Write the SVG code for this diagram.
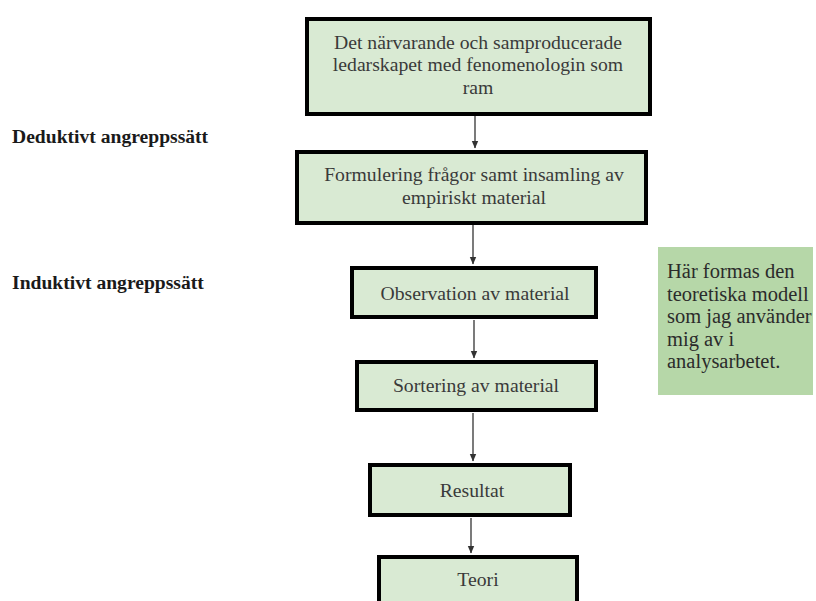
<svg xmlns="http://www.w3.org/2000/svg" width="816" height="601" viewBox="0 0 816 601">
  <defs>
    <marker id="arrow" viewBox="0 0 8 8" refX="7" refY="4" markerWidth="8" markerHeight="8" markerUnits="userSpaceOnUse" orient="auto">
      <path d="M0,0.8 L7.5,4 L0,7.2 Z" fill="#333"/>
    </marker>
  </defs>
  <style>
    .box { fill: #d9ead3; stroke: #000; stroke-width: 4; }
    .boxtxt { font-family: "Liberation Serif", "Times New Roman", serif; font-size: 19.7px; fill: #3a3a3a; text-anchor: middle; }
    .side { font-family: "Liberation Serif", "Times New Roman", serif; font-size: 19.6px; font-weight: bold; fill: #1a1a1a; }
    .note { fill: #b6d7a8; }
    .notetxt { font-family: "Liberation Serif", "Times New Roman", serif; font-size: 20.5px; fill: #2b2b2b; }
    .conn { stroke: #333; stroke-width: 1.3; fill: none; marker-end: url(#arrow); }
  </style>
  <rect width="816" height="601" fill="#fff"/>

  <g id="connectors">
    <line class="conn" x1="475" y1="116" x2="475" y2="148"/>
    <line class="conn" x1="473" y1="225" x2="473" y2="264"/>
    <line class="conn" x1="474" y1="320" x2="474" y2="358"/>
    <line class="conn" x1="473" y1="413" x2="473" y2="461"/>
    <line class="conn" x1="471" y1="518" x2="471" y2="553"/>
  </g>

  <g id="label-deduktivt">
    <text class="side" x="12" y="143">Deduktivt angreppssätt</text>
  </g>
  <g id="label-induktivt">
    <text class="side" x="12" y="289">Induktivt angreppssätt</text>
  </g>

  <g id="node-ram">
    <rect class="box" x="307" y="19" width="343" height="95"/>
    <text class="boxtxt" x="478" y="49">Det närvarande och samproducerade</text>
    <text class="boxtxt" x="478" y="71">ledarskapet med fenomenologin som</text>
    <text class="boxtxt" x="478" y="94">ram</text>
  </g>

  <g id="node-formulering">
    <rect class="box" x="297" y="152" width="349" height="71"/>
    <text class="boxtxt" x="474" y="181">Formulering frågor samt insamling av</text>
    <text class="boxtxt" x="474" y="204">empiriskt  material</text>
  </g>

  <g id="node-observation">
    <rect class="box" x="352" y="268" width="244" height="49"/>
    <text class="boxtxt" x="475" y="300">Observation av material</text>
  </g>

  <g id="node-sortering">
    <rect class="box" x="357" y="362" width="239" height="48"/>
    <text class="boxtxt" x="476" y="392">Sortering av material</text>
  </g>

  <g id="node-resultat">
    <rect class="box" x="370" y="465" width="200" height="50"/>
    <text class="boxtxt" x="472" y="497">Resultat</text>
  </g>

  <g id="node-teori">
    <rect class="box" x="379" y="557" width="198" height="60"/>
    <text class="boxtxt" x="478" y="586">Teori</text>
  </g>

  <g id="note-modell">
    <rect class="note" x="658" y="247" width="155" height="148"/>
    <text class="notetxt" x="667" y="278">Här formas den</text>
    <text class="notetxt" x="667" y="301">teoretiska modell</text>
    <text class="notetxt" x="667" y="323">som jag använder</text>
    <text class="notetxt" x="667" y="346">mig av i</text>
    <text class="notetxt" x="667" y="368">analysarbetet.</text>
  </g>
</svg>
